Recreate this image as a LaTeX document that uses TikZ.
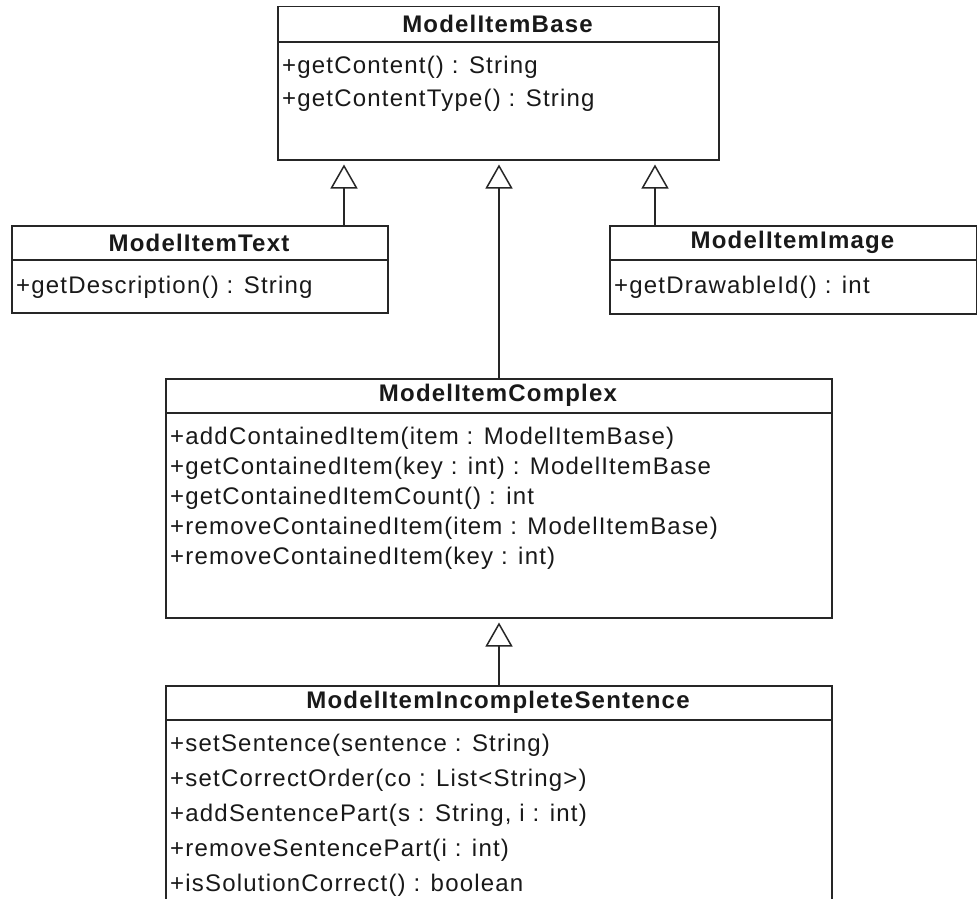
\documentclass[tikz,border=0pt]{standalone}
\usepackage{fontspec}
\setmainfont{Liberation Sans}[LetterSpace=5]
\usetikzlibrary{arrows.meta}
\begin{document}
\begin{tikzpicture}[x=1pt,y=-1pt,
  umlbox/.style={draw=black!85, line width=1.5pt, anchor=north west, inner sep=0pt},
  sep/.style={draw=black!85, line width=1.5pt},
  title/.style={anchor=center, inner sep=0pt, font=\fontsize{24}{28}\selectfont\bfseries, text=black!90},
  member/.style={anchor=west, inner sep=0pt, font=\fontsize{24}{28}\selectfont, text=black!90, text height=17pt, text depth=5pt},
  inh/.style={draw=black!85, line width=1.5pt, -{Triangle[open,length=24pt,width=27pt,fill=white]}, shorten >=4pt}]
\useasboundingbox (0,0) rectangle (977,899);
\clip (0,0) rectangle (977,899);
\fill[white] (0,0) rectangle (977,899);

% ModelItemBase
\node[umlbox, minimum width=441pt, minimum height=153pt] (base) at (277,6) {};
\draw[sep] ([yshift=-36pt]base.north west) -- ([yshift=-36pt]base.north east);
\node[title] (baseT) at (497.5,24) {ModelItemBase};
\node[member] (baseM1) at (282,68) {+getContent() : String};
\node[member] (baseM2) at (282,100) {+getContentType() : String};

% ModelItemText
\node[umlbox, minimum width=376pt, minimum height=87pt] (txt) at (11,225) {};
\draw[sep] ([yshift=-35pt]txt.north west) -- ([yshift=-35pt]txt.north east);
\node[title] (txtT) at (199,242.5) {ModelItemText};
\node[member] (txtM1) at (16,287) {+getDescription() : String};

% ModelItemImage
\node[umlbox, minimum width=367pt, minimum height=88pt] (img) at (609,225) {};
\draw[sep] ([yshift=-35pt]img.north west) -- ([yshift=-35pt]img.north east);
\node[title] (imgT) at (792.5,242.5) {ModelItemImage};
\node[member] (imgM1) at (614,287) {+getDrawableId() : int};

% ModelItemComplex
\node[umlbox, minimum width=666pt, minimum height=239pt] (cpx) at (165,378) {};
\draw[sep] ([yshift=-35pt]cpx.north west) -- ([yshift=-35pt]cpx.north east);
\node[title] (cpxT) at (498,395.5) {ModelItemComplex};
\node[member] (cpxM1) at (170,438) {+addContainedItem(item : ModelItemBase)};
\node[member] (cpxM2) at (170,468) {+getContainedItem(key : int) : ModelItemBase};
\node[member] (cpxM3) at (170,498) {+getContainedItemCount() : int};
\node[member] (cpxM4) at (170,528) {+removeContainedItem(item : ModelItemBase)};
\node[member] (cpxM5) at (170,558) {+removeContainedItem(key : int)};

% ModelItemIncompleteSentence
\node[umlbox, minimum width=666pt, minimum height=260pt] (sen) at (165,685) {};
\draw[sep] ([yshift=-35pt]sen.north west) -- ([yshift=-35pt]sen.north east);
\node[title] (senT) at (498,702.5) {ModelItemIncompleteSentence};
\node[member] (senM1) at (170,745) {+setSentence(sentence : String)};
\node[member] (senM2) at (170,780) {+setCorrectOrder(co : List<String>)};
\node[member] (senM3) at (170,815) {+addSentencePart(s : String, i : int)};
\node[member] (senM4) at (170,850) {+removeSentencePart(i : int)};
\node[member] (senM5) at (170,885) {+isSolutionCorrect() : boolean};

% generalisations
\coordinate (a1) at ([xshift=333pt]txt.north west);
\coordinate (a2) at ([xshift=46pt]img.north west);
\coordinate (a3) at ([xshift=334pt]cpx.north west);
\coordinate (a4) at ([xshift=334pt]sen.north west);
\draw[inh] (a1) -- (a1 |- base.south);
\draw[inh] (a2) -- (a2 |- base.south);
\draw[inh] (a3) -- (a3 |- base.south);
\draw[inh] (a4) -- (a4 |- cpx.south);
\end{tikzpicture}
\end{document}
